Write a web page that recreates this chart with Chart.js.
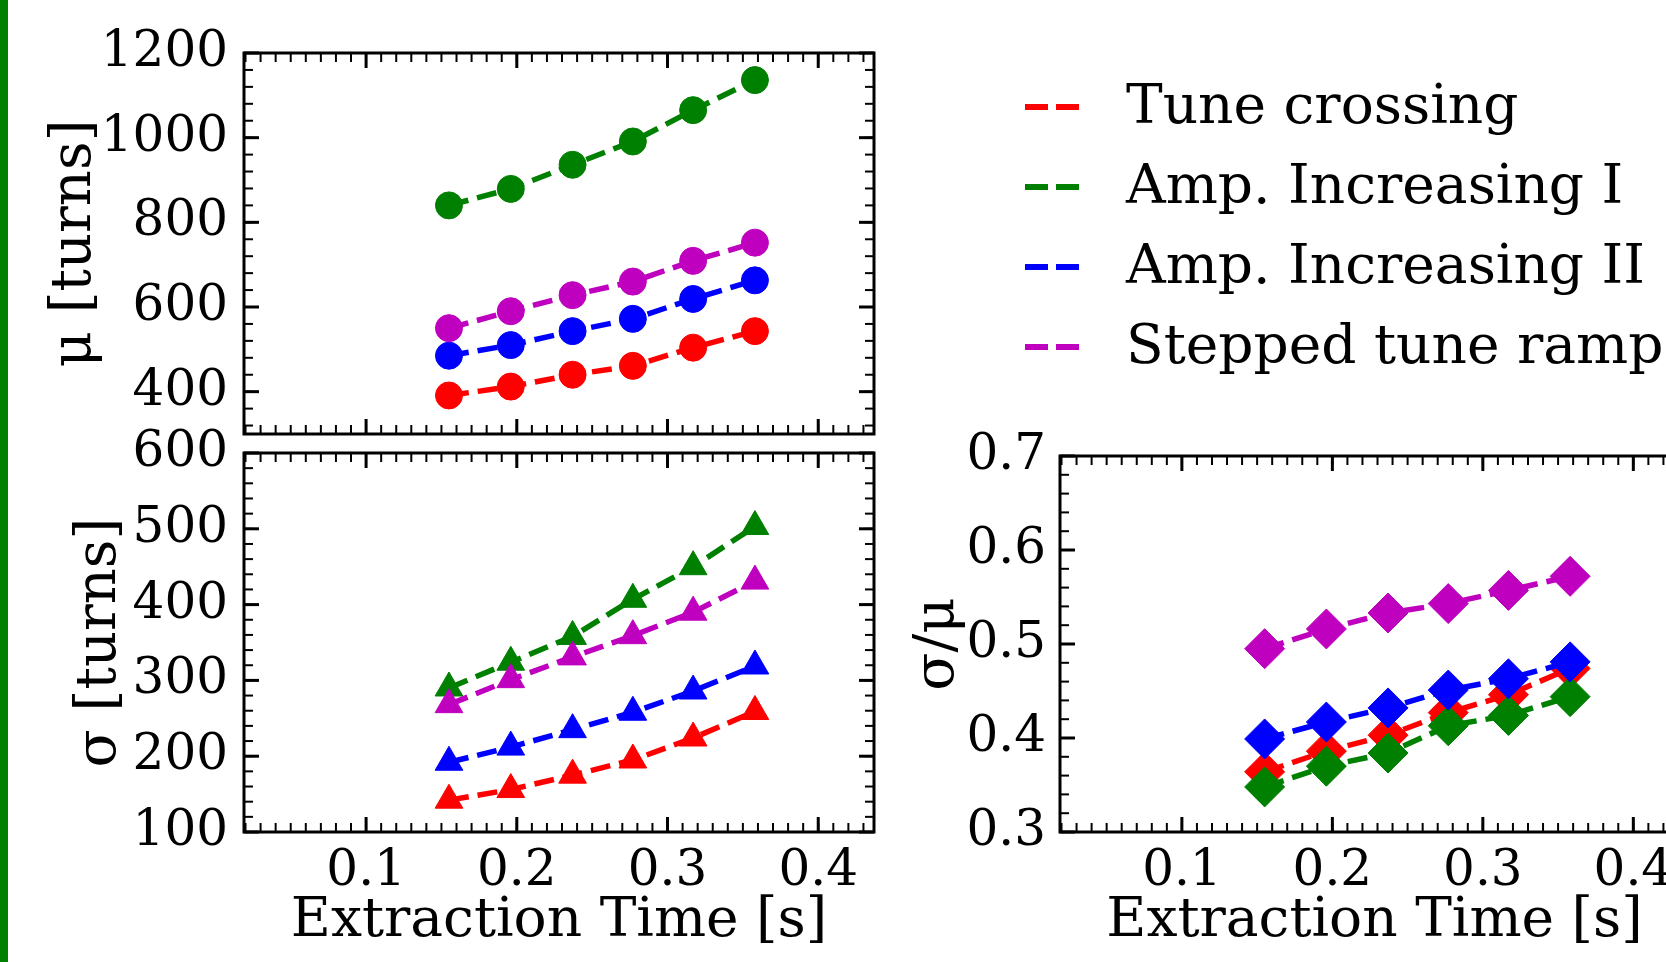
<!DOCTYPE html>
<html>
<head>
<meta charset="utf-8">
<script src="https://cdn.jsdelivr.net/npm/chart.js@4.4.1/dist/chart.umd.min.js"></script>
<style>
  html, body { margin: 0; padding: 0; background: #fff; width: 1666px; height: 962px; overflow: hidden; }
  canvas { position: absolute; }
  #edge { position: absolute; left: 0; top: 0; width: 8px; height: 962px; background: #008000; }
  .row { position: absolute; left: 1025px; height: 80px; display: flex; align-items: center;
         font-family: "DejaVu Serif", serif; font-size: 55px; color: #000; white-space: nowrap; }
  .row svg { position: absolute; left: 0; }
  .row span { position: absolute; left: 101px; }
</style>
</head>
<body>
<div id="edge"></div>
<canvas id="muChart" width="900" height="460" style="left:0;top:0"></canvas>
<canvas id="sigmaChart" width="900" height="596" style="left:0;top:400px"></canvas>
<canvas id="ratioChart" width="840" height="596" style="left:880px;top:400px"></canvas>
<div id="legend"></div>
<script>
// data
var extractionTime = [0.155, 0.196, 0.237, 0.277, 0.317, 0.358];

var tuneCrossingMu = [391, 412, 440, 461, 504, 543];
var ampIncIMu = [840, 879, 936, 991, 1065, 1136];
var ampIncIIMu = [485, 510, 543, 572, 619, 663];
var steppedRampMu = [550, 590, 628, 660, 709, 752];

var tuneCrossingSigma = [142, 156, 175, 195, 224, 259];
var ampIncISigma = [290, 324, 358, 407, 450, 503];
var ampIncIISigma = [192, 212, 235, 258, 286, 319];
var steppedRampSigma = [268, 301, 331, 359, 390, 431];

var tuneCrossingRatio = [0.364, 0.386, 0.403, 0.427, 0.446, 0.474];
var ampIncIRatio = [0.348, 0.370, 0.384, 0.413, 0.424, 0.444];
var ampIncIIRatio = [0.399, 0.417, 0.432, 0.451, 0.463, 0.481];
var steppedRampRatio = [0.495, 0.516, 0.533, 0.543, 0.557, 0.572];

var seriesNames = ['Tune crossing', 'Amp. Increasing I', 'Amp. Increasing II', 'Stepped tune ramp'];
var seriesColors = ['#ff0000', '#008000', '#0000ff', '#bf00bf'];

var xTicks = [0.1, 0.2, 0.3, 0.4];
var muTicks = [400, 600, 800, 1000, 1200];
var sigmaTicks = [100, 200, 300, 400, 500, 600];
var ratioTicks = [0.3, 0.4, 0.5, 0.6, 0.7];

var FONT = 'DejaVu Serif';

// inward ticks on all four sides + black frame, like matplotlib
var frameTicks = {
  id: 'frameTicks',
  afterDatasetsDraw: function (chart, args, opts) {
    var ctx = chart.ctx, a = chart.chartArea, x = chart.scales.x, y = chart.scales.y;
    ctx.save();
    ctx.strokeStyle = '#000';
    function line(x1, y1, x2, y2, w) {
      ctx.lineWidth = w;
      ctx.beginPath(); ctx.moveTo(x1, y1); ctx.lineTo(x2, y2); ctx.stroke();
    }
    function minors(scale, step) {
      var out = [];
      for (var k = Math.ceil(scale.min / step - 1e-9); k * step <= scale.max + 1e-9; k++) out.push(k * step);
      return out;
    }
    minors(x, opts.xMinor).forEach(function (v) {
      var p = x.getPixelForValue(v);
      line(p, a.bottom, p, a.bottom - 9, 2); line(p, a.top, p, a.top + 9, 2);
    });
    opts.xMajor.forEach(function (v) {
      var p = x.getPixelForValue(v);
      line(p, a.bottom, p, a.bottom - 15, 3); line(p, a.top, p, a.top + 15, 3);
    });
    minors(y, opts.yMinor).forEach(function (v) {
      var p = y.getPixelForValue(v);
      line(a.left, p, a.left + 9, p, 2); line(a.right, p, a.right - 9, p, 2);
    });
    opts.yMajor.forEach(function (v) {
      var p = y.getPixelForValue(v);
      line(a.left, p, a.left + 15, p, 3); line(a.right, p, a.right - 15, p, 3);
    });
    ctx.lineWidth = 3;
    ctx.strokeRect(a.left, a.top, a.right - a.left, a.bottom - a.top);
    ctx.restore();
  }
};

function makeDatasets(lists, pointStyle, radius) {
  return lists.map(function (vals, i) {
    return {
      label: seriesNames[i],
      data: vals.map(function (v, j) { return { x: extractionTime[j], y: v }; }),
      borderColor: seriesColors[i],
      backgroundColor: seriesColors[i],
      borderWidth: 5.5,
      borderDash: [20, 9],
      pointStyle: pointStyle,
      pointRadius: radius,
      pointHoverRadius: radius,
      pointBorderWidth: 1,
      tension: 0,
      order: 3 - i
    };
  });
}

function makeChart(id, lists, pointStyle, radius, cfg) {
  return new Chart(document.getElementById(id), {
    type: 'line',
    data: { datasets: makeDatasets(lists, pointStyle, radius) },
    plugins: [frameTicks],
    options: {
      responsive: false,
      animation: false,
      events: [],
      layout: { padding: cfg.padding },
      plugins: {
        legend: { display: false },
        tooltip: { enabled: false },
        frameTicks: { xMajor: xTicks, xMinor: 0.01, yMajor: cfg.yTicks, yMinor: cfg.yMinor }
      },
      scales: {
        x: {
          type: 'linear',
          min: 0.019, max: 0.437,
          display: cfg.showX,
          grid: { display: false, drawTicks: false },
          border: { display: false },
          afterBuildTicks: function (s) { s.ticks = xTicks.map(function (v) { return { value: v }; }); },
          afterFit: function (s) {
            s.height = cfg.showX ? 164 : 0;
            s.paddingLeft = 0; s.paddingRight = 0;
          },
          ticks: {
            autoSkip: false, maxRotation: 0, padding: 10, color: '#000',
            font: { family: FONT, size: 50 },
            callback: function (v) { return String(v); }
          },
          title: {
            display: true, text: 'Extraction Time [s]', color: '#000',
            font: { family: FONT, size: 55 }, padding: { top: 0, bottom: 41 }
          }
        },
        y: {
          min: cfg.yMin, max: cfg.yMax,
          grid: { display: false, drawTicks: false },
          border: { display: false },
          afterBuildTicks: function (s) { s.ticks = cfg.yTicks.map(function (v) { return { value: v }; }); },
          afterFit: function (s) {
            s.width = cfg.yWidth;
            s.paddingTop = 0; s.paddingBottom = 0;
          },
          ticks: {
            padding: cfg.tickPad, color: '#000',
            font: { family: FONT, size: 50 },
            callback: function (v) { return String(v); }
          },
          title: {
            display: true, text: cfg.yTitle, color: '#000',
            font: { family: FONT, size: 56 }, padding: { top: cfg.titlePad, bottom: 0 }
          }
        }
      }
    }
  });
}

makeChart('muChart', [tuneCrossingMu, ampIncIMu, ampIncIIMu, steppedRampMu], 'circle', 13.5, {
  padding: { left: 0, top: 53, right: 26, bottom: 26 },
  showX: false, yMin: 300, yMax: 1200, yTicks: muTicks, yMinor: 40,
  yTitle: 'μ [turns]', yWidth: 244, tickPad: 16, titlePad: 42
});

makeChart('sigmaChart', [tuneCrossingSigma, ampIncISigma, ampIncIISigma, steppedRampSigma], 'triangle', 16, {
  padding: { left: 0, top: 53, right: 26, bottom: 0 },
  showX: true, yMin: 100, yMax: 600, yTicks: sigmaTicks, yMinor: 20,
  yTitle: 'σ [turns]', yWidth: 244, tickPad: 16, titlePad: 67
});

makeChart('ratioChart', [tuneCrossingRatio, ampIncIRatio, ampIncIIRatio, steppedRampRatio], 'rectRot', 20, {
  padding: { left: 0, top: 56, right: 31, bottom: 0 },
  showX: true, yMin: 0.3, yMax: 0.7, yTicks: ratioTicks, yMinor: 0.02,
  yTitle: 'σ/μ', yWidth: 180, tickPad: 14, titlePad: 25
});

// legend, as in the figure's separate legend panel
var legendRowsY = [64, 144, 224, 304];
var legend = document.getElementById('legend');
seriesNames.forEach(function (name, i) {
  var row = document.createElement('div');
  row.className = 'row';
  row.style.top = legendRowsY[i] + 'px';
  row.innerHTML = '<svg width="56" height="80"><line x1="0" y1="43" x2="56" y2="43" stroke="' +
    seriesColors[i] + '" stroke-width="6" stroke-dasharray="23 8"/></svg><span>' + name + '</span>';
  legend.appendChild(row);
});
</script>
</body>
</html>
